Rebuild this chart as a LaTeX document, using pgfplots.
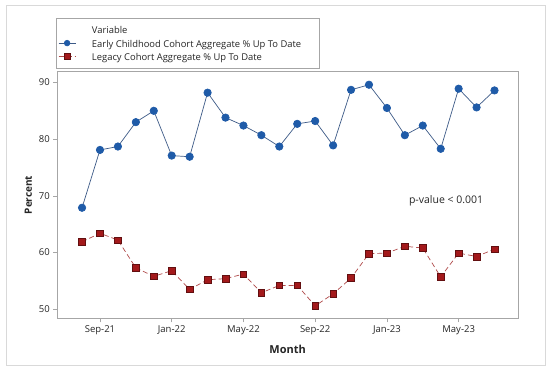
\documentclass[border=0pt]{standalone}
\usepackage{fontspec}
\setmainfont{Open Sans}
\usepackage{pgfplots}
\pgfplotsset{compat=1.18}
\definecolor{mblue}{HTML}{1F5BA8}
\definecolor{mblueline}{HTML}{3D5A87}
\definecolor{mred}{HTML}{A3191B}
\definecolor{mredline}{HTML}{B04A4A}
\definecolor{frm}{HTML}{D9D9D9}
\definecolor{axbox}{HTML}{A6A6A6}
\definecolor{txt}{HTML}{262626}
\pgfplotstableread{
x early legacy
0 67.9 61.9
1 78.1 63.4
2 78.7 62.2
3 83.0 57.3
4 85.0 55.8
5 77.1 56.8
6 76.9 53.5
7 88.2 55.2
8 83.8 55.4
9 82.4 56.2
10 80.7 52.9
11 78.7 54.2
12 82.7 54.2
13 83.2 50.6
14 78.9 52.7
15 88.7 55.5
16 89.6 59.8
17 85.5 59.9
18 80.7 61.1
19 82.4 60.8
20 78.3 55.7
21 88.9 59.9
22 85.6 59.3
23 88.6 60.6
}\datatable
\begin{document}
\begin{tikzpicture}[x=1pt,y=1pt]
\fill[white] (0,0) rectangle (550,370);
\draw[frm, line width=0.8pt] (6,5) rectangle (545,365);
\begin{axis}[
  at={(57.3pt,51.7pt)}, anchor=south west,
  scale only axis, width=460.7pt, height=246.6pt,
  xmin=-1.38, xmax=24.31, ymin=48.4, ymax=91.9,
  xtick={1,5,9,13,17,21},
  xticklabels={Sep-21,Jan-22,May-22,Sep-22,Jan-23,May-23},
  ytick={50,60,70,80,90},
  /pgf/number format/assume math mode=true,
  tick align=outside, xtick pos=bottom, ytick pos=left,
  major tick length=4pt,
  tick style={axbox, line width=0.6pt},
  axis line style={axbox, line width=0.8pt},
  ticklabel style={font=\fontsize{9.5}{11}\selectfont, text=txt},
  xlabel={Month}, ylabel={Percent},
  xlabel style={font=\fontsize{11}{13}\selectfont\bfseries, text=txt,
    at={(axis description cs:0.5,-0.126)}, anchor=center},
  ylabel style={font=\fontsize{10}{12}\selectfont\bfseries, text=txt,
    at={(axis description cs:-0.063,0.5)}, anchor=center},
  legend cell align=left,
  legend image post style={mark size=2.8pt},
  legend style={at={(axis description cs:-0.003,1)}, anchor=south west, yshift=3.3pt,
    draw=axbox, line width=0.6pt, font=\fontsize{9.4}{11}\selectfont, text=txt,
    inner xsep=2pt, inner ysep=6.7pt, row sep=3.3pt, column sep=14pt,
    nodes={inner xsep=2pt, inner ysep=0pt, text height=9pt, text depth=1pt}},
]
\addlegendimage{empty legend}
\addlegendentry{Variable}
\addplot[mblueline, line width=0.7pt, mark=*, mark size=3.7pt,
  mark options={solid, fill=mblue, draw=mblue}] table[x=x, y=early] {\datatable};
\addlegendentry{Early Childhood Cohort Aggregate \% Up To Date\hspace*{14pt}}
\addplot[mredline, line width=0.7pt, dash pattern=on 5pt off 3pt, mark=square*, mark size=3.3pt,
  mark options={solid, fill=mred, draw=mred!60!black, line width=0.5pt}] table[x=x, y=legacy] {\datatable};
\addlegendentry{Legacy Cohort Aggregate \% Up To Date}
\node[font=\fontsize{10.5}{12}\selectfont, text=txt] at (axis cs:20.3,69.1) {p-value < 0.001};
\end{axis}
\end{tikzpicture}
\end{document}
